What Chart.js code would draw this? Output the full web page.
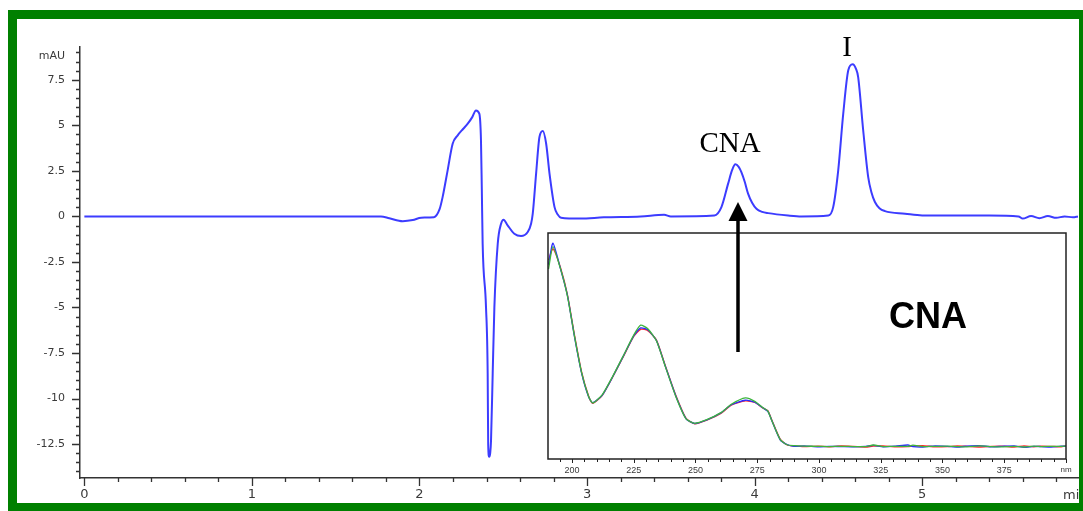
<!DOCTYPE html>
<html>
<head>
<meta charset="utf-8">
<script src="https://cdn.jsdelivr.net/npm/chart.js@4.4.1/dist/chart.umd.min.js"></script>
<style>
  html, body { margin: 0; padding: 0; background: #fff; overflow: hidden; }
  #wrap { position: relative; width: 1083px; height: 511px; overflow: hidden; }
  #main { position: absolute; left: 0; top: 0; }
  #inset { position: absolute; left: 540px; top: 195px; }
  #frame {
    position: absolute; left: 8px; top: 10px; width: 1080px; height: 502px;
    box-sizing: border-box; border: 9px solid #008000; pointer-events: none;
  }
</style>
</head>
<body>
<div id="wrap">
  <canvas id="main" width="1083" height="511"></canvas>
  <canvas id="inset" width="540" height="290"></canvas>
  <div id="frame"></div>
</div>
<script>
// chromatogram (min / mAU)
const mainTime = [0, 0.5, 1.0, 1.5, 1.77, 1.82, 1.9, 1.96, 2.01, 2.086,
  2.12, 2.138, 2.168, 2.198, 2.228, 2.26, 2.288, 2.315, 2.337, 2.357,
  2.367, 2.372, 2.377, 2.397, 2.407, 2.41, 2.416, 2.422, 2.427, 2.437,
  2.447, 2.467, 2.487, 2.502, 2.526, 2.566, 2.606, 2.646, 2.666, 2.676,
  2.696, 2.716, 2.736, 2.756, 2.776, 2.806, 2.825, 2.845, 2.96, 3.1,
  3.32, 3.46, 3.5, 3.76, 3.802, 3.842, 3.866, 3.885, 3.905, 3.921,
  3.941, 3.961, 3.985, 4.011, 4.045, 4.081, 4.2, 4.28, 4.44, 4.469,
  4.499, 4.529, 4.559, 4.585, 4.605, 4.618, 4.648, 4.678, 4.698, 4.718,
  4.745, 4.778, 4.898, 5.0, 5.2, 5.4, 5.575, 5.6, 5.65, 5.7,
  5.75, 5.8, 5.85, 5.9, 5.93];
const mainAbs = [0, 0, 0, 0, 0, -0.1, -0.26, -0.2, -0.07, -0.04,
  0.4, 1.06, 2.53, 3.99, 4.45, 4.8, 5.09, 5.45, 5.82, 5.64,
  4.18, 1.5, -1.5, -4.98, -8.64, -12.5, -13.2, -13.0, -12.3, -8.6,
  -4.98, -1.5, -0.4, -0.18, -0.49, -0.95, -1.08, -0.86, -0.4, 0.15,
  2.35, 4.36, 4.69, 3.99, 2.35, 0.51, 0.1, -0.07, -0.12, -0.05,
  0, 0.09, 0, 0.05, 0.51, 1.8, 2.55, 2.86, 2.72, 2.43,
  1.9, 1.25, 0.75, 0.42, 0.25, 0.18, 0.05, 0, 0.05, 0.51,
  2.53, 5.64, 8.02, 8.35, 8.1, 7.65, 4.73, 2.16, 1.3, 0.79,
  0.45, 0.29, 0.15, 0.05, 0.05, 0.05, 0, -0.12, 0.02, -0.1,
  0.02, -0.08, 0, -0.05, 0];
const xTicks = [0, 1, 2, 3, 4, 5];
const yTicks = [-12.5, -10, -7.5, -5, -2.5, 0, 2.5, 5, 7.5];
const peakLabels = ['CNA', 'I'];

// UV spectrum of the CNA peak (nm / relative absorbance)
const specNm = [190.5, 192.3, 195.4, 198.2, 201.0, 203.9, 206.7, 208.4, 212.3, 216.6,
  220.8, 225.0, 227.8, 230.7, 234.2, 237.7, 242.0, 246.2, 249.7, 254.6,
  260.3, 264.5, 270.2, 274, 277.2, 279.3, 280.7, 284.3, 287.1, 289.9,
  294, 299.7, 304, 309, 314, 319, 322, 326, 331, 336,
  338, 342, 347, 352, 356, 360, 365, 370, 374, 379,
  383, 387, 390, 394, 398, 400];
const specRed = [88, 93, 84.5, 72.5, 55, 38.5, 28, 24.6, 28.2, 36.5,
  45.3, 54.2, 57.4, 56.8, 52.6, 41.6, 28.3, 18, 15.6, 17.2,
  20.2, 23.8, 25.7, 25, 22.6, 21.4, 17.8, 8.8, 6.2, 5.8,
  5.5, 5.7, 5.4, 5.8, 5.6, 5.3, 5.7, 5.8, 5.4, 5.5,
  5.7, 5.9, 5.4, 5.5, 5.8, 5.6, 5.3, 5.6, 5.7, 5.3,
  5.8, 5.4, 5.7, 5.6, 5.4, 5.8];
const specBlue = [86, 95.5, 84, 72.2, 54.2, 38, 27.6, 24.9, 28.3, 36.6,
  45.5, 54.5, 58, 57.2, 52.4, 41.4, 28, 17.8, 15.7, 17.3,
  20.4, 24, 26, 25.2, 22.7, 21.1, 17.6, 8.5, 6.4, 5.6,
  5.8, 5.4, 5.6, 5.5, 5.4, 5.6, 6.0, 5.4, 5.7, 6.2,
  5.5, 5.3, 5.8, 5.6, 5.3, 5.7, 5.9, 5.4, 5.6, 5.8,
  5.2, 5.6, 5.5, 5.3, 5.7, 5.6];
const specGreen = [84, 94, 84, 72, 54.5, 38.2, 27.8, 24.8, 28.5, 36.8,
  45.7, 54.8, 59.2, 57.6, 52.3, 41.2, 27.8, 17.7, 15.8, 17.4,
  20.5, 24.2, 27.0, 25.5, 22.8, 21.2, 17.5, 8.6, 6.3, 5.9,
  5.7, 5.6, 5.5, 5.6, 5.5, 5.5, 6.2, 5.5, 5.6, 5.6,
  6.1, 5.5, 5.6, 5.7, 5.5, 5.4, 5.8, 5.5, 5.4, 5.6,
  5.3, 5.7, 5.5, 5.6, 5.6, 5.7];
const specTicks = [200, 225, 250, 275, 300, 325, 350, 375, 400];

const axisColor = '#333';
const labelColor = '#3a3a3a';

// small + big tick marks on both axes of the chromatogram
const mainDecor = {
  id: 'mainDecor',
  afterDraw(chart) {
    const { ctx, scales: { x, y }, chartArea: a } = chart;
    ctx.save();
    ctx.strokeStyle = axisColor;
    ctx.lineWidth = 1.3;
    ctx.beginPath();
    for (let i = 0; i <= 29; i++) {
      const v = i * 0.2;
      const px = Math.round(x.getPixelForValue(v)) + 0.5;
      const len = (i % 5 === 0) ? 8 : 4;
      ctx.moveTo(px, a.bottom);
      ctx.lineTo(px, a.bottom + len);
    }
    for (let i = -28; i <= 18; i++) {
      const v = i * 0.5;
      const py = Math.round(y.getPixelForValue(v)) + 0.5;
      const len = (i % 5 === 0) ? 8 : 4;
      ctx.moveTo(a.left, py);
      ctx.lineTo(a.left - len, py);
    }
    ctx.stroke();

    ctx.fillStyle = labelColor;
    ctx.font = '11px "DejaVu Sans"';
    ctx.textAlign = 'right';
    ctx.textBaseline = 'middle';
    ctx.fillText('mAU', 65, 56);
    ctx.font = '13px "DejaVu Sans"';
    ctx.textAlign = 'left';
    ctx.fillText('min', 1063, 496);

    // peak names
    ctx.fillStyle = '#000';
    ctx.font = '29px "Liberation Serif"';
    ctx.textAlign = 'center';
    ctx.textBaseline = 'alphabetic';
    ctx.fillText(peakLabels[0], 730, 152);
    ctx.fillText(peakLabels[1], 847, 56);
    ctx.restore();
  }
};

new Chart(document.getElementById('main'), {
  type: 'line',
  data: {
    datasets: [{
      data: mainTime.map((t, i) => ({ x: t, y: mainAbs[i] })),
      borderColor: 'rgb(60,60,255)',
      borderWidth: 2,
      pointRadius: 0,
      fill: false,
      cubicInterpolationMode: 'monotone'
    }]
  },
  options: {
    responsive: false,
    animation: false,
    events: [],
    layout: { padding: { top: 47, right: 5, left: 0, bottom: 0 } },
    plugins: { legend: { display: false }, tooltip: { enabled: false } },
    scales: {
      x: {
        type: 'linear', min: -0.026, max: 5.93,
        afterBuildTicks: s => { s.ticks = xTicks.map(v => ({ value: v })); },
        afterFit: s => { s.height = 33; },
        grid: { display: false, drawTicks: false },
        border: { display: true, color: axisColor, width: 1.5 },
        ticks: {
          padding: 9, maxRotation: 0, autoSkip: false, color: labelColor,
          font: { family: 'DejaVu Sans', size: 13 },
          callback: v => String(v)
        }
      },
      y: {
        type: 'linear', min: -14.36, max: 9.3,
        afterBuildTicks: s => { s.ticks = yTicks.map(v => ({ value: v })); },
        afterFit: s => { s.width = 80; },
        grid: { display: false, drawTicks: false },
        border: { display: true, color: axisColor, width: 1.5 },
        ticks: {
          padding: 15, color: labelColor,
          font: { family: 'DejaVu Sans', size: 11 },
          callback: v => String(v)
        }
      }
    }
  },
  plugins: [mainDecor]
});

// white box, frame, ticks, big label and the arrow for the inset
const insetDecor = {
  id: 'insetDecor',
  beforeDraw(chart) {
    const { ctx, chartArea: a } = chart;
    ctx.save();
    ctx.fillStyle = '#fff';
    ctx.fillRect(a.left, a.top, a.right - a.left, a.bottom - a.top);
    ctx.restore();
  },
  afterDraw(chart) {
    const { ctx, scales: { x }, chartArea: a } = chart;
    ctx.save();
    ctx.strokeStyle = '#222';
    ctx.lineWidth = 1.5;
    ctx.strokeRect(a.left, a.top, a.right - a.left, a.bottom - a.top);
    ctx.lineWidth = 1;
    ctx.beginPath();
    for (let v = 195; v <= 400; v += 5) {
      const px = Math.round(x.getPixelForValue(v)) + 0.5;
      ctx.moveTo(px, a.bottom);
      ctx.lineTo(px, a.bottom + (v % 25 === 0 ? 4 : 3));
    }
    ctx.stroke();

    ctx.fillStyle = '#000';
    ctx.font = 'bold 36px "Liberation Sans"';
    ctx.textAlign = 'center';
    ctx.textBaseline = 'alphabetic';
    ctx.fillText('CNA', 388, 133);

    // arrow from the spectrum up to the CNA peak
    ctx.strokeStyle = '#000';
    ctx.lineWidth = 3.5;
    ctx.beginPath();
    ctx.moveTo(198, 157);
    ctx.lineTo(198, 22);
    ctx.stroke();
    ctx.beginPath();
    ctx.moveTo(198, 7);
    ctx.lineTo(207.5, 26);
    ctx.lineTo(188.5, 26);
    ctx.closePath();
    ctx.fill();
    ctx.restore();
  }
};

function specSet(vals, color) {
  return {
    data: specNm.map((n, i) => ({ x: n, y: vals[i] })),
    borderColor: color,
    borderWidth: 1.3,
    pointRadius: 0,
    fill: false,
    tension: 0.2
  };
}

// first dataset ends up on top
new Chart(document.getElementById('inset'), {
  type: 'line',
  data: {
    datasets: [
      specSet(specGreen, '#3cb43c'),
      specSet(specBlue, '#2a2aff'),
      specSet(specRed, '#ff2a2a')
    ]
  },
  options: {
    responsive: false,
    animation: false,
    events: [],
    layout: { padding: { top: 38, right: 14, left: 8, bottom: 0 } },
    plugins: { legend: { display: false }, tooltip: { enabled: false } },
    scales: {
      x: {
        type: 'linear', min: 190.3, max: 400,
        afterBuildTicks: s => { s.ticks = specTicks.map(v => ({ value: v })); },
        afterFit: s => { s.height = 26; },
        grid: { display: false, drawTicks: false },
        border: { display: false },
        ticks: {
          padding: 6, maxRotation: 0, autoSkip: false, color: labelColor,
          font: c => ({ family: 'Liberation Sans', size: (c.tick && c.tick.value === 400) ? 8 : 9 }),
          callback: v => v === 400 ? 'nm' : String(v)
        }
      },
      y: { display: false, min: 0, max: 100 }
    }
  },
  plugins: [insetDecor]
});
</script>
</body>
</html>
